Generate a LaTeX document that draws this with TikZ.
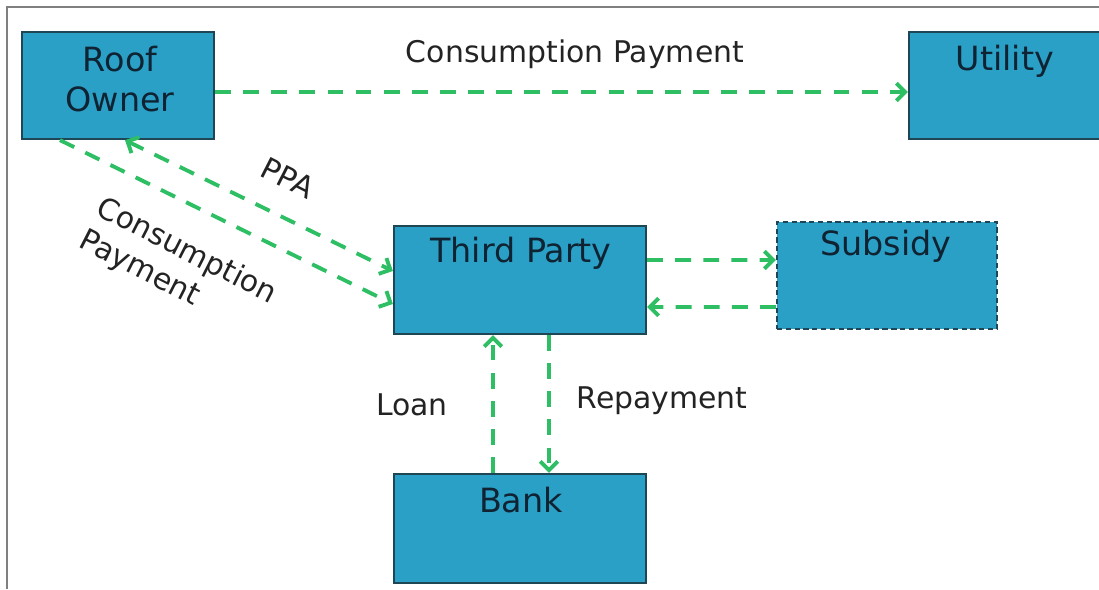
\documentclass[tikz,border=0pt]{standalone}
\usepackage{fontspec}
\setmainfont{DejaVu Sans}
\usetikzlibrary{arrows.meta}
\definecolor{boxfill}{RGB}{43,160,199}
\definecolor{boxline}{RGB}{30,70,85}
\definecolor{flowgreen}{RGB}{46,190,100}
\definecolor{boxtext}{RGB}{15,35,50}
\definecolor{labeltext}{RGB}{35,35,35}
\definecolor{framegray}{RGB}{128,128,128}
\tikzset{
  party/.style={draw=boxline, fill=boxfill, line width=1.3pt, inner sep=0pt, minimum height=2.14cm},
  flow/.style={color=flowgreen, line width=2.2pt, dash pattern=on 9pt off 7pt, ->},
  partytext/.style={text=boxtext, font=\fontsize{19}{23}\selectfont, align=center, anchor=base},
  flowlabel/.style={text=labeltext, font=\fontsize{17}{21}\selectfont, anchor=base},
  >={Straight Barb[length=5pt,width=10pt]}
}

\begin{document}
\begin{tikzpicture}[x=0.02cm,y=-0.02cm]
\useasboundingbox (0,0) rectangle (1099,589);
\clip (0,0) rectangle (1099,589);
\draw[framegray, line width=1.5pt] (7,589) -- (7,7) -- (1099,7);
\node[party, minimum width=3.84cm] (roof) at (118,85.5) {};
\node[party, minimum width=4.22cm] (utility) at (1014.5,85.5) {};
\node[party, minimum width=5.04cm, minimum height=2.16cm] (third) at (520,280) {};
\node[party, dash pattern=on 3pt off 2pt, minimum width=4.4cm] (subsidy) at (887,275.5) {};
\node[party, minimum width=5.04cm, minimum height=2.18cm] (bank) at (520,528.5) {};
\path (120,79) node[partytext, anchor=center] (rooftext) {Roof\\Owner};
\path (1005,70) node[partytext] (utilitytext) {Utility};
\path (521,262) node[partytext] (thirdtext) {Third Party};
\path (886,255) node[partytext] (subsidytext) {Subsidy};
\path (521,512) node[partytext] (banktext) {Bank};
\draw[flow] ([yshift=-0.13cm]roof.east) -- ([yshift=-0.13cm]utility.west);
\draw[flow, <->] ([xshift=0.14cm]roof.south) -- ([yshift=0.18cm]third.west);
\draw[flow] ([xshift=-1.16cm]roof.south) -- ([yshift=-0.48cm]third.west);
\draw[flow] ([yshift=0.4cm]third.east) -- ([yshift=0.31cm]subsidy.west);
\draw[flow] ([yshift=-0.63cm]subsidy.west) -- ([yshift=-0.54cm]third.east);
\draw[flow] ([xshift=-0.54cm]bank.north) -- ([xshift=-0.54cm]third.south);
\draw[flow] ([xshift=0.58cm]third.south) -- ([xshift=0.58cm]bank.north);
\path (575,62) node[flowlabel] (paylabel) {Consumption Payment};
\path (288,178) node[flowlabel, anchor=center, rotate=-27] (ppalabel) {PPA};
\path (178,268) node[flowlabel, anchor=center, rotate=-27, align=left] (conslabel) {Consumption\\Payment};
\path (412,415) node[flowlabel] (loanlabel) {Loan};
\path (662,408) node[flowlabel] (repaylabel) {Repayment};
\end{tikzpicture}
\end{document}
